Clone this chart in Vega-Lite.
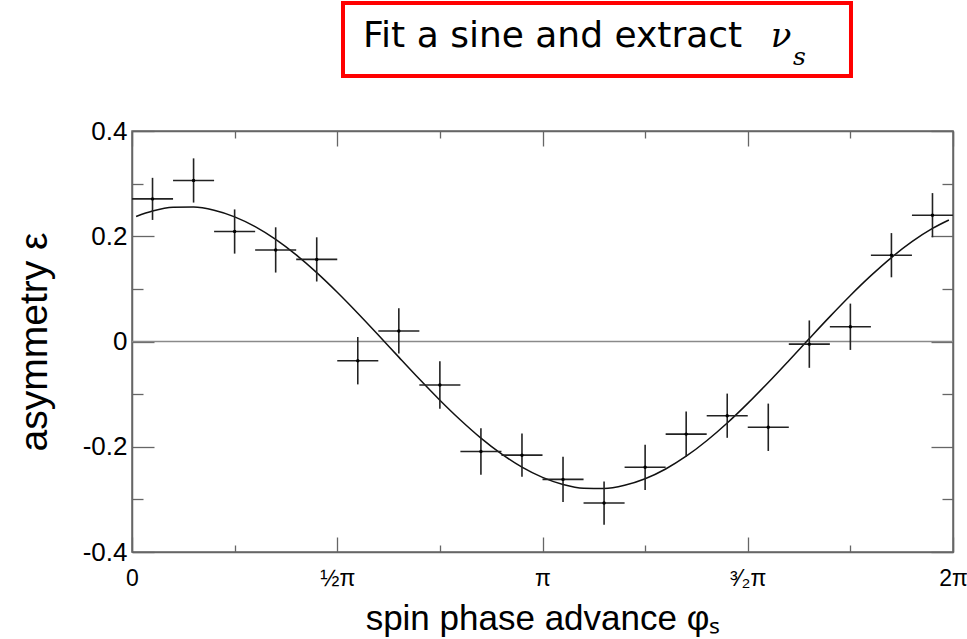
{
  "$schema": "https://vega.github.io/schema/vega-lite/v6.json",
  "width": 821,
  "height": 421,
  "autosize": "none",
  "padding": {"left": 132, "top": 131, "right": 14, "bottom": 87},
  "background": "white",
  "config": {
    "view": {"stroke": "#666666", "strokeWidth": 1.5},
    "font": "Liberation Sans",
    "axis": {"grid": false, "domainColor": "#666666", "domainWidth": 1.5, "tickColor": "#666666", "tickWidth": 1.3, "labelFont": "Liberation Sans", "titleFont": "Liberation Sans", "labelColor": "#000000", "titleColor": "#000000", "titleFontWeight": "normal", "labelOverlap": false, "labelFlush": false}
  },
  "datasets": {
    "points": [
      {"phi": 0.05, "plo": 0.0, "phi_hi": 0.1, "eps": 0.271, "elo": 0.231, "ehi": 0.311},
      {"phi": 0.15, "plo": 0.1, "phi_hi": 0.2, "eps": 0.306, "elo": 0.264, "ehi": 0.348},
      {"phi": 0.25, "plo": 0.2, "phi_hi": 0.3, "eps": 0.209, "elo": 0.167, "ehi": 0.251},
      {"phi": 0.35, "plo": 0.3, "phi_hi": 0.4, "eps": 0.174, "elo": 0.131, "ehi": 0.217},
      {"phi": 0.45, "plo": 0.4, "phi_hi": 0.5, "eps": 0.156, "elo": 0.114, "ehi": 0.198},
      {"phi": 0.55, "plo": 0.5, "phi_hi": 0.6, "eps": -0.0365, "elo": -0.0815, "ehi": 0.0085},
      {"phi": 0.65, "plo": 0.6, "phi_hi": 0.7, "eps": 0.020, "elo": -0.023, "ehi": 0.063},
      {"phi": 0.75, "plo": 0.7, "phi_hi": 0.8, "eps": -0.0827, "elo": -0.1277, "ehi": -0.0377},
      {"phi": 0.85, "plo": 0.8, "phi_hi": 0.9, "eps": -0.209, "elo": -0.253, "ehi": -0.165},
      {"phi": 0.95, "plo": 0.9, "phi_hi": 1.0, "eps": -0.216, "elo": -0.257, "ehi": -0.175},
      {"phi": 1.05, "plo": 1.0, "phi_hi": 1.1, "eps": -0.262, "elo": -0.305, "ehi": -0.219},
      {"phi": 1.15, "plo": 1.1, "phi_hi": 1.2, "eps": -0.307, "elo": -0.348, "ehi": -0.266},
      {"phi": 1.25, "plo": 1.2, "phi_hi": 1.3, "eps": -0.239, "elo": -0.282, "ehi": -0.196},
      {"phi": 1.35, "plo": 1.3, "phi_hi": 1.4, "eps": -0.176, "elo": -0.219, "ehi": -0.133},
      {"phi": 1.45, "plo": 1.4, "phi_hi": 1.5, "eps": -0.141, "elo": -0.183, "ehi": -0.099},
      {"phi": 1.55, "plo": 1.5, "phi_hi": 1.6, "eps": -0.163, "elo": -0.208, "ehi": -0.118},
      {"phi": 1.65, "plo": 1.6, "phi_hi": 1.7, "eps": -0.005, "elo": -0.050, "ehi": 0.040},
      {"phi": 1.75, "plo": 1.7, "phi_hi": 1.8, "eps": 0.028, "elo": -0.016, "ehi": 0.072},
      {"phi": 1.85, "plo": 1.8, "phi_hi": 1.9, "eps": 0.164, "elo": 0.122, "ehi": 0.206},
      {"phi": 1.95, "plo": 1.9, "phi_hi": 2.0, "eps": 0.240, "elo": 0.198, "ehi": 0.282}
    ],
    "curve": [
      {"phi": 0.01, "fit": 0.2375}, {"phi": 0.05, "fit": 0.2478}, {"phi": 0.10, "fit": 0.2549},
      {"phi": 0.15, "fit": 0.2554}, {"phi": 0.20, "fit": 0.2494}, {"phi": 0.25, "fit": 0.2369},
      {"phi": 0.30, "fit": 0.2183}, {"phi": 0.35, "fit": 0.1940}, {"phi": 0.40, "fit": 0.1646},
      {"phi": 0.45, "fit": 0.1309}, {"phi": 0.50, "fit": 0.0936}, {"phi": 0.55, "fit": 0.0538},
      {"phi": 0.60, "fit": 0.0124}, {"phi": 0.65, "fit": -0.0297}, {"phi": 0.70, "fit": -0.0713},
      {"phi": 0.75, "fit": -0.1115}, {"phi": 0.80, "fit": -0.1491}, {"phi": 0.85, "fit": -0.1835},
      {"phi": 0.90, "fit": -0.2136}, {"phi": 0.95, "fit": -0.2388}, {"phi": 1.00, "fit": -0.2583},
      {"phi": 1.05, "fit": -0.2718}, {"phi": 1.10, "fit": -0.2789}, {"phi": 1.15, "fit": -0.2794},
      {"phi": 1.20, "fit": -0.2733}, {"phi": 1.25, "fit": -0.2609}, {"phi": 1.30, "fit": -0.2423},
      {"phi": 1.35, "fit": -0.2180}, {"phi": 1.40, "fit": -0.1886}, {"phi": 1.45, "fit": -0.1549},
      {"phi": 1.50, "fit": -0.1176}, {"phi": 1.55, "fit": -0.0778}, {"phi": 1.60, "fit": -0.0364},
      {"phi": 1.65, "fit": 0.0057}, {"phi": 1.70, "fit": 0.0473}, {"phi": 1.75, "fit": 0.0875},
      {"phi": 1.80, "fit": 0.1251}, {"phi": 1.85, "fit": 0.1595}, {"phi": 1.90, "fit": 0.1896},
      {"phi": 1.95, "fit": 0.2148}, {"phi": 1.99, "fit": 0.2308}
    ],
    "box": [{"x1": 0.514, "x2": 1.7515, "y1": 0.5045, "y2": 0.6432}],
    "caption": [{"cx": 0.5627, "cy": 0.5596, "label": "Fit a sine and extract"}],
    "nu": [{"cx": 1.556, "cy": 0.5596, "label": "ν"}],
    "sub": [{"cx": 1.610, "cy": 0.5254, "label": "s"}]
  },
  "layer": [
    {
      "data": {"values": [{"z": 0}]},
      "mark": {"type": "rule", "color": "#8a8a8a", "strokeWidth": 1.3},
      "encoding": {
        "y": {"field": "z", "type": "quantitative", "scale": {"domain": [-0.4, 0.4], "nice": false, "zero": false}, "axis": null}
      }
    },
    {
      "data": {"name": "curve"},
      "mark": {"type": "line", "color": "#111111", "strokeWidth": 1.5, "interpolate": "monotone"},
      "encoding": {
        "x": {"field": "phi", "type": "quantitative", "scale": {"domain": [0, 2], "nice": false, "zero": false},
          "axis": {"orient": "top", "values": [0, 0.25, 0.5, 0.75, 1, 1.25, 1.5, 1.75, 2], "labels": false, "title": null,
            "tickSize": {"condition": {"test": "round(datum.value*4) % 2 == 0", "value": -15}, "value": -7}}},
        "y": {"field": "fit", "type": "quantitative", "scale": {"domain": [-0.4, 0.4], "nice": false, "zero": false},
          "axis": {"orient": "right", "values": [-0.4, -0.3, -0.2, -0.1, 0, 0.1, 0.2, 0.3, 0.4], "labels": false, "title": null,
            "tickSize": {"condition": {"test": "abs(round(datum.value*10)) % 2 == 0", "value": -22}, "value": -11}}}
      }
    },
    {
      "data": {"name": "points"},
      "mark": {"type": "rule", "color": "#222222", "strokeWidth": 1.6},
      "encoding": {
        "x": {"field": "plo", "type": "quantitative", "scale": {"domain": [0, 2], "nice": false, "zero": false},
          "axis": {"orient": "bottom", "values": [0, 0.25, 0.5, 0.75, 1, 1.25, 1.5, 1.75, 2],
            "labelExpr": "datum.value == 0 ? '0' : datum.value == 0.5 ? '½π' : datum.value == 1 ? 'π' : datum.value == 1.5 ? '³⁄₂π' : datum.value == 2 ? '2π' : ''",
            "labelFontSize": 23, "labelPadding": 30,
            "tickSize": {"condition": {"test": "round(datum.value*4) % 2 == 0", "value": -15}, "value": -7},
            "title": "spin phase advance φₛ", "titleFontSize": 35, "titlePadding": 3}},
        "x2": {"field": "phi_hi"},
        "y": {"field": "eps", "type": "quantitative", "scale": {"domain": [-0.4, 0.4], "nice": false, "zero": false},
          "axis": {"orient": "left", "values": [-0.4, -0.3, -0.2, -0.1, 0, 0.1, 0.2, 0.3, 0.4],
            "labelExpr": "abs(round(datum.value*10)) % 2 == 0 ? (datum.value == 0 ? '0' : (datum.value < 0 ? '-' : '') + format(abs(datum.value), '.1f')) : ''",
            "labelFontSize": 26, "labelPadding": 27,
            "tickSize": {"condition": {"test": "abs(round(datum.value*10)) % 2 == 0", "value": -22}, "value": -11},
            "title": "asymmetry ε", "titleFontSize": 39, "titlePadding": 28}}
      }
    },
    {
      "data": {"name": "points"},
      "mark": {"type": "rule", "color": "#222222", "strokeWidth": 1.6},
      "encoding": {
        "x": {"field": "phi", "type": "quantitative", "scale": {"domain": [0, 2], "nice": false, "zero": false}, "axis": null},
        "y": {"field": "elo", "type": "quantitative", "scale": {"domain": [-0.4, 0.4], "nice": false, "zero": false}, "axis": null},
        "y2": {"field": "ehi"}
      }
    },
    {
      "data": {"name": "points"},
      "mark": {"type": "point", "filled": true, "color": "#000000", "size": 12, "opacity": 1},
      "encoding": {
        "x": {"field": "phi", "type": "quantitative", "scale": {"domain": [0, 2], "nice": false, "zero": false}, "axis": null},
        "y": {"field": "eps", "type": "quantitative", "scale": {"domain": [-0.4, 0.4], "nice": false, "zero": false}, "axis": null}
      }
    },
    {
      "data": {"name": "box"},
      "mark": {"type": "rect", "fillOpacity": 0, "stroke": "#ff0000", "strokeWidth": 4},
      "encoding": {
        "x": {"field": "x1", "type": "quantitative", "scale": {"domain": [0, 2], "nice": false, "zero": false}, "axis": null},
        "x2": {"field": "x2"},
        "y": {"field": "y1", "type": "quantitative", "scale": {"domain": [-0.4, 0.4], "nice": false, "zero": false}, "axis": null},
        "y2": {"field": "y2"}
      }
    },
    {
      "data": {"name": "caption"},
      "mark": {"type": "text", "font": "DejaVu Sans", "fontSize": 36, "align": "left", "baseline": "alphabetic", "color": "#000000"},
      "encoding": {
        "x": {"field": "cx", "type": "quantitative", "scale": {"domain": [0, 2], "nice": false, "zero": false}, "axis": null},
        "y": {"field": "cy", "type": "quantitative", "scale": {"domain": [-0.4, 0.4], "nice": false, "zero": false}, "axis": null},
        "text": {"field": "label"}
      }
    },
    {
      "data": {"name": "nu"},
      "mark": {"type": "text", "font": "DejaVu Serif", "fontStyle": "italic", "fontSize": 34, "align": "left", "baseline": "alphabetic", "color": "#000000"},
      "encoding": {
        "x": {"field": "cx", "type": "quantitative", "scale": {"domain": [0, 2], "nice": false, "zero": false}, "axis": null},
        "y": {"field": "cy", "type": "quantitative", "scale": {"domain": [-0.4, 0.4], "nice": false, "zero": false}, "axis": null},
        "text": {"field": "label"}
      }
    },
    {
      "data": {"name": "sub"},
      "mark": {"type": "text", "font": "DejaVu Serif", "fontStyle": "italic", "fontSize": 25, "align": "left", "baseline": "alphabetic", "color": "#000000"},
      "encoding": {
        "x": {"field": "cx", "type": "quantitative", "scale": {"domain": [0, 2], "nice": false, "zero": false}, "axis": null},
        "y": {"field": "cy", "type": "quantitative", "scale": {"domain": [-0.4, 0.4], "nice": false, "zero": false}, "axis": null},
        "text": {"field": "label"}
      }
    }
  ]
}
